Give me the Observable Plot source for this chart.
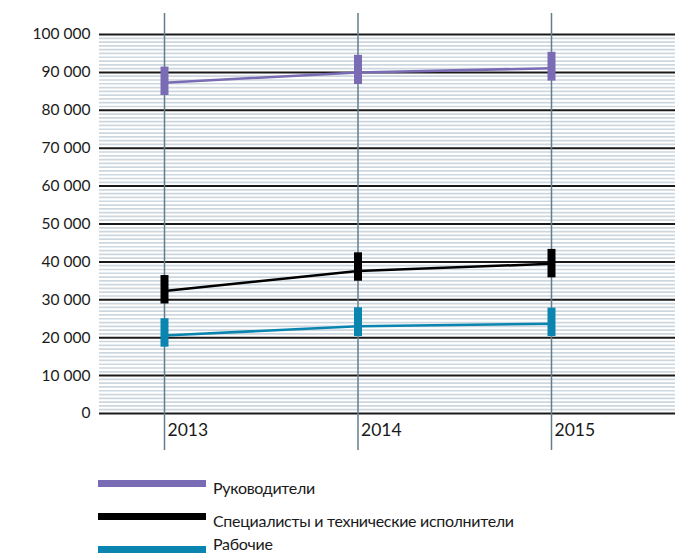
<!DOCTYPE html>
<html><head><meta charset="utf-8">
<script src="https://cdn.jsdelivr.net/npm/d3@7"></script>
<script src="https://cdn.jsdelivr.net/npm/@observablehq/plot@0.6"></script>
<style>
body{margin:0;background:#fff;font-family:Lato,"Open Sans",sans-serif;}
#chart svg{display:block;}
#legend{position:relative;height:94px;}
.sw{position:absolute;left:98px;width:108px;height:7px;}
.lb{position:absolute;left:213px;font-size:16px;line-height:14px;color:#1a1a1a;letter-spacing:-0.3px;white-space:nowrap;}
</style></head><body>
<div id="chart"></div>
<div id="legend"></div>
<script>
const years = [2013, 2014, 2015];
const seriesNames = ["Руководители", "Специалисты и технические исполнители", "Рабочие"];
const seriesColors = ["#7a6cb4", "#000000", "#0a85b0"];

const managersValue = [87300, 90000, 91100];
const managersLow   = [83900, 86800, 87700];
const managersHigh  = [91400, 94500, 95300];

const specialistsValue = [32300, 37600, 39500];
const specialistsLow   = [28900, 34900, 35800];
const specialistsHigh  = [36400, 42400, 43300];

const workersValue = [20600, 23000, 23700];
const workersLow   = [17500, 20300, 20300];
const workersHigh  = [25000, 27900, 27800];

const yTicks = [0, 10000, 20000, 30000, 40000, 50000, 60000, 70000, 80000, 90000, 100000];
const minorStep = 1000;

const seriesData = [
  [managersValue, managersLow, managersHigh],
  [specialistsValue, specialistsLow, specialistsHigh],
  [workersValue, workersLow, workersHigh]
];
const rows = [];
seriesData.forEach(([v, lo, hi], si) => {
  years.forEach((year, i) => rows.push({series: seriesNames[si], year, value: v[i], low: lo[i], high: hi[i]}));
});
const minorTicks = d3.range(0, 100001, minorStep).filter(d => d % 10000 !== 0);
const fmt = d => d3.format(",")(d).replace(/,/g, " ");

const chart = Plot.plot({
  width: 675,
  height: 460,
  marginLeft: 99,
  marginRight: 0,
  marginTop: 13,
  marginBottom: 10,
  style: {fontFamily: "Lato, 'Open Sans', sans-serif", fontSize: "15px", color: "#1a1a1a", background: "#fff"},
  x: {domain: [2013, 2015], range: [164, 551], axis: null},
  y: {domain: [0, 100000], range: [413, 34], axis: null},
  color: {domain: seriesNames, range: seriesColors},
  marks: [
    Plot.ruleY(minorTicks, {stroke: "#cdd7df", strokeWidth: 1.7}),
    Plot.ruleY(yTicks, {stroke: "#1a1a1a", strokeWidth: 2}),
    Plot.ruleX(years, {stroke: "#647d8b", strokeWidth: 1.5}),
    Plot.line(rows, {x: "year", y: "value", z: "series", stroke: "series", strokeWidth: 2.5}),
    Plot.ruleX(rows, {x: "year", y1: "low", y2: "high", stroke: "series", strokeWidth: 8}),
    Plot.axisY({ticks: yTicks, tickSize: 0, tickPadding: 9, tickFormat: fmt, label: null, fontSize: 15.5, textStroke: "none"}),
    Plot.text(years, {x: d => d, text: d => String(d), frameAnchor: "bottom", dy: -15, dx: 3, textAnchor: "start", fontSize: 17.5, fill: "#1a1a1a"})
  ]
});
document.getElementById("chart").appendChild(chart);

const legend = document.getElementById("legend");
const swatchTops = [20, 52.5, 85.5];
const labelTops = [20.8, 54.3, 76.5];
seriesNames.forEach((name, i) => {
  const sw = document.createElement("div");
  sw.className = "sw";
  sw.style.background = seriesColors[i];
  sw.style.top = swatchTops[i] + "px";
  const lb = document.createElement("div");
  lb.className = "lb";
  lb.textContent = name;
  lb.style.top = labelTops[i] + "px";
  legend.appendChild(sw);
  legend.appendChild(lb);
});
</script>
</body></html>
